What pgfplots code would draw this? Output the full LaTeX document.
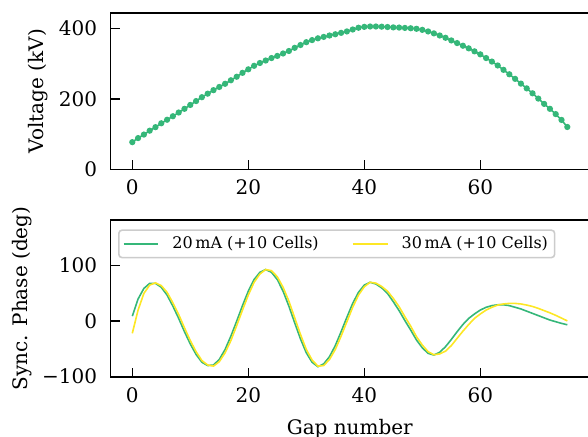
\documentclass[border=0pt]{standalone}
\usepackage{fontspec}
\setmainfont{DejaVu Serif}
\usepackage{pgfplots}
\pgfplotsset{compat=1.18}
\definecolor{vgreen}{HTML}{35B779}
\definecolor{vyellow}{HTML}{FDE725}
\begin{document}
\begin{tikzpicture}
\pgfplotsset{
  common/.style={
    scale only axis, width=358.9pt, height=117.4pt,
    xmin=-3.75, xmax=78.75,
    tick align=inside, tick pos=left,
    major tick length=6.75pt,
    every tick/.style={black, line width=1pt},
    axis line style={line width=1.3pt},
    font=\fontsize{15}{17}\selectfont,
    ticklabel style={font=\fontsize{15}{17}\selectfont},
    xticklabel style={inner sep=0pt, anchor=north, yshift=-7.7pt},
    yticklabel style={inner sep=0pt, anchor=east, xshift=-9.9pt},
    xtick={0,20,40,60},
    /pgf/number format/assume math mode=true,
    anchor=south west,
  }
}
\begin{axis}[common, at={(82.9pt,199.9pt)},
  ymin=0, ymax=444, ytick={0,200,400},
  every axis y label/.style={at={(axis description cs:-0.152,0.5)}, rotate=90, anchor=center},
  ylabel={Voltage (kV)}]
\addplot[vgreen, line width=1.2pt, mark=*, mark size=1.7pt, mark options={fill=vgreen, draw=vgreen}] coordinates {
(0,77.5)(1,89)(2,99)(3,110)(4,120)(5,131)(6,141)(7,151)(8,161.5)(9,172)
(10,183)(11,194)(12,205)(13,215)(14,225)(15,234)(16,243)(17,253)(18,263)(19,274)
(20,284)(21,294)(22,302)(23,309)(24,316)(25,322)(26,329)(27,336)(28,345)(29,353)
(30,361)(31,367)(32,372)(33,376)(34,380)(35,383.5)(36,387.5)(37,391.5)(38,397)(39,402)
(40,404.5)(41,405.5)(42,405.5)(43,405)(44,404)(45,403)(46,402.5)(47,401.5)(48,400.5)(49,399)
(50,396)(51,391.5)(52,386)(53,380)(54,373.5)(55,366)(56,358.5)(57,351)(58,343.5)(59,335)
(60,326.5)(61,316)(62,306)(63,295)(64,282.5)(65,270)(66,257)(67,243.5)(68,230)(69,216)
(70,201)(71,186)(72,172)(73,157)(74,140.5)(75,120.5)};
\end{axis}
\begin{axis}[common, at={(82.9pt,44.5pt)},
  ymin=-100, ymax=182, ytick={-100,0,100}, yticklabels={−100,0,100},
  every axis y label/.style={at={(axis description cs:-0.184,0.5)}, rotate=90, anchor=center},
  ylabel={Sync. Phase (deg)},
  every axis x label/.style={at={(axis description cs:0.5,0)}, anchor=north, yshift=-31.5pt, inner sep=0pt},
  xlabel={Gap number},
  legend columns=2,
  legend image code/.code={\draw[#1] (0pt,0pt) -- (26pt,0pt); \path (34pt,0pt);},
  legend style={at={(0,1)}, anchor=north west, xshift=5.6pt, yshift=-6.9pt,
    draw=black!20, line width=1.2pt, rounded corners=2.5pt, fill=white, fill opacity=0.8, text opacity=1,
    font=\fontsize{12}{14}\selectfont, inner xsep=3pt, inner ysep=3pt,
    /tikz/every even column/.append style={column sep=23pt}},
]
\addplot[vgreen, line width=1.2pt] coordinates {
(0,9)(1,40)(2,59)(3,68)(4,68)(5,61)(6,47)(7,27)(8,5)(9,-19)
(10,-41)(11,-60)(12,-74)(13,-80)(14,-79)(15,-69)(16,-51)(17,-27)(18,0)(19,28)
(20,54)(21,75)(22,88)(23,93)(24,88)(25,75)(26,54)(27,27)(28,-3)(29,-32)
(30,-57)(31,-74)(32,-82)(33,-77)(34,-64)(35,-44)(36,-19)(37,7)(38,32)(39,52)
(40,65)(41,70)(42,67)(43,60)(44,50)(45,35)(46,19)(47,1)(48,-16)(49,-34)
(50,-48)(51,-58)(52,-61)(53,-56)(54,-46)(55,-33)(56,-19)(57,-6)(58,5)(59,13)
(60,20)(61,25)(62,28)(63,29.5)(64,29.5)(65,28)(66,25)(67,22)(68,18)(69,14)
(70,10)(71,6)(72,2)(73,-1)(74,-4)(75,-6.5)};
\addlegendentry{20\,mA (+10 Cells)}
\addplot[vyellow, line width=1.2pt] coordinates {
(0,-22)(1,20)(2,50)(3,65)(4,69)(5,64)(6,52)(7,33)(8,12)(9,-12)
(10,-35)(11,-55)(12,-71)(13,-79)(14,-81)(15,-73)(16,-57)(17,-35)(18,-8)(19,20)
(20,47)(21,70)(22,85)(23,93)(24,91)(25,80)(26,61)(27,36)(28,6)(29,-24)
(30,-51)(31,-70)(32,-81)(33,-80)(34,-69)(35,-51)(36,-27)(37,-1)(38,25)(39,47)
(40,62)(41,70)(42,68.5)(43,62.5)(44,54)(45,41)(46,26)(47,8)(48,-9)(49,-28)
(50,-43)(51,-55)(52,-60.5)(53,-59)(54,-54)(55,-44)(56,-31)(57,-18)(58,-6)(59,5)
(60,13)(61,20)(62,25)(63,29)(64,31)(65,32)(66,32)(67,31)(68,29)(69,26.5)
(70,23)(71,19)(72,15)(73,10.5)(74,5.5)(75,0.5)};
\addlegendentry{30\,mA (+10 Cells)}
\end{axis}
\pgfresetboundingbox
\useasboundingbox (0,0) rectangle (441pt,327pt);
\end{tikzpicture}
\end{document}
